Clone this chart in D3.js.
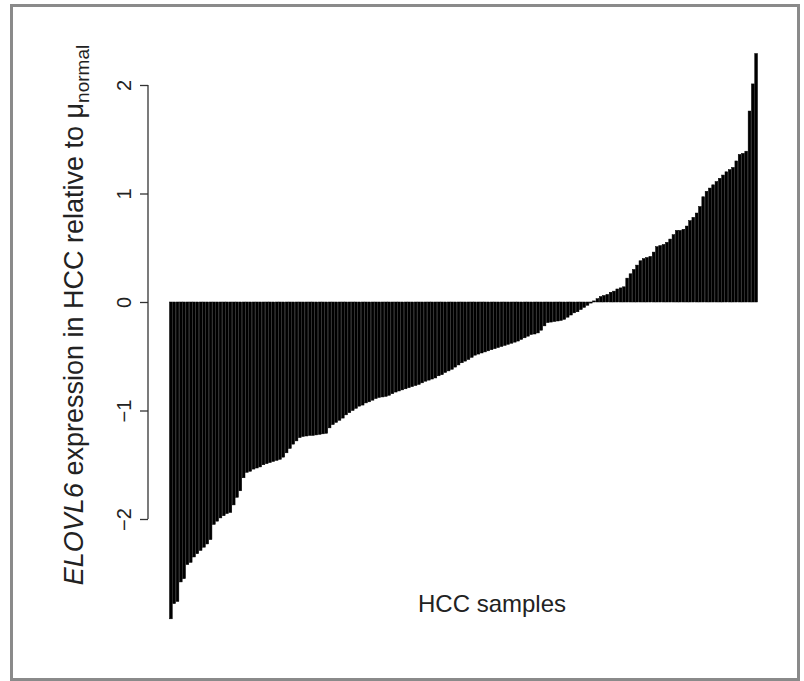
<!DOCTYPE html>
<html>
<head>
<meta charset="UTF-8">
<title>ELOVL6 expression in HCC</title>
<script src="https://d3js.org/d3.v7.min.js"></script>
<style>
	body { margin: 0; background: #fff; }
	svg { display: block; font-family: "Liberation Sans", Arial, sans-serif; }
</style>
</head>
<body>
<div id="chart"></div>
<script>
// sorted expression of each HCC sample, relative to normal mean
var expression = [
	-2.92, -2.78, -2.76, -2.58, -2.55, -2.42, -2.40, -2.35, -2.32, -2.29,
	-2.26, -2.23, -2.19, -2.05, -2.02, -1.99, -1.97, -1.95, -1.94, -1.87,
	-1.80, -1.74, -1.62, -1.57, -1.56, -1.54, -1.53, -1.52, -1.50, -1.49,
	-1.48, -1.47, -1.46, -1.45, -1.43, -1.39, -1.35, -1.31, -1.28, -1.25,
	-1.24, -1.235, -1.23, -1.23, -1.225, -1.22, -1.215, -1.21, -1.16, -1.13,
	-1.11, -1.09, -1.07, -1.04, -1.02, -1.00, -0.98, -0.96, -0.95, -0.93,
	-0.92, -0.905, -0.89, -0.88, -0.875, -0.87, -0.86, -0.845, -0.83, -0.82,
	-0.81, -0.80, -0.79, -0.78, -0.77, -0.76, -0.745, -0.73, -0.72, -0.71,
	-0.70, -0.68, -0.67, -0.65, -0.635, -0.62, -0.60, -0.58, -0.56, -0.545,
	-0.53, -0.51, -0.49, -0.48, -0.47, -0.46, -0.45, -0.44, -0.43, -0.42,
	-0.41, -0.40, -0.39, -0.38, -0.37, -0.36, -0.345, -0.33, -0.315, -0.30,
	-0.295, -0.285, -0.26, -0.22, -0.19, -0.185, -0.18, -0.175, -0.17, -0.16,
	-0.14, -0.12, -0.10, -0.09, -0.07, -0.05, -0.03, -0.01, 0.01, 0.03,
	0.05, 0.06, 0.07, 0.09, 0.10, 0.12, 0.13, 0.14, 0.22, 0.26,
	0.30, 0.34, 0.38, 0.40, 0.41, 0.42, 0.46, 0.51, 0.52, 0.53,
	0.55, 0.58, 0.62, 0.66, 0.66, 0.67, 0.70, 0.75, 0.78, 0.82,
	0.88, 0.97, 1.02, 1.05, 1.08, 1.11, 1.14, 1.17, 1.20, 1.22,
	1.24, 1.30, 1.36, 1.37, 1.39, 1.76, 2.01, 2.29
];
var samples = expression.map(function(d, i){ return "S" + (i + 1); });
var yTicks = [-2, -1, 0, 1, 2];
var xTitle = "HCC samples";

var width = 804, height = 681;

var svg = d3.select("#chart").append("svg")
	.attr("width", width)
	.attr("height", height);

// grey frame round the figure
svg.append("rect")
	.attr("x", 11.5).attr("y", 5.5)
	.attr("width", 787).attr("height", 674)
	.attr("fill", "none")
	.attr("stroke", "#8a8a8a")
	.attr("stroke-width", 3);

var x = d3.scaleBand()
	.domain(samples)
	.range([169.5, 757.5])
	.paddingInner(0.17)
	.paddingOuter(0);

var y = d3.scaleLinear()
	.domain([-3, 2.5])
	.range([627.5, 30.75]);

// bars
svg.append("g").selectAll("rect")
	.data(expression)
	.enter()
	.append("rect")
		.attr("x", function(d, i){ return x(samples[i]); })
		.attr("width", x.bandwidth())
		.attr("y", function(d){ return y(Math.max(0, d)); })
		.attr("height", function(d){ return Math.abs(y(d) - y(0)); })
		.attr("fill", "#000")
		.attr("stroke", "#000")
		.attr("stroke-width", 0.5);

// y axis, R style: line only from first to last tick
var yAxis = d3.axisLeft(y)
	.tickValues(yTicks)
	.tickSize(8)
	.tickFormat(function(d){ return d < 0 ? "\u2212" + Math.abs(d) : d; });

var gy = svg.append("g")
	.attr("transform", "translate(148,0)")
	.call(yAxis);
gy.select(".domain").remove();
gy.append("line")
	.attr("y1", y(yTicks[0]))
	.attr("y2", y(yTicks[yTicks.length - 1]))
	.attr("stroke", "#333")
	.attr("stroke-width", 1.3);
gy.selectAll(".tick line").attr("stroke", "#333").attr("stroke-width", 1.3);
gy.selectAll(".tick text")
	.attr("transform", "rotate(-90)")
	.attr("x", 0)
	.attr("y", -17)
	.attr("dy", 0)
	.attr("text-anchor", "middle")
	.attr("fill", "#222")
	.style("font-size", "20px")
	.style("font-family", "Liberation Sans, Arial, sans-serif");

// y title with italic gene name and subscript
var yTitle = svg.append("text")
	.attr("transform", "translate(83,315) rotate(-90)")
	.attr("text-anchor", "middle")
	.attr("fill", "#222")
	.style("font-size", "27px");
yTitle.append("tspan").style("font-style", "italic").text("ELOVL6");
yTitle.append("tspan").text(" expression in HCC relative to \u03bc");
yTitle.append("tspan").attr("dy", 6).style("font-size", "19px").text("normal");

// x title
svg.append("text")
	.attr("x", 492)
	.attr("y", 612)
	.attr("text-anchor", "middle")
	.attr("fill", "#222")
	.style("font-size", "24px")
	.text(xTitle);
</script>
</body>
</html>
